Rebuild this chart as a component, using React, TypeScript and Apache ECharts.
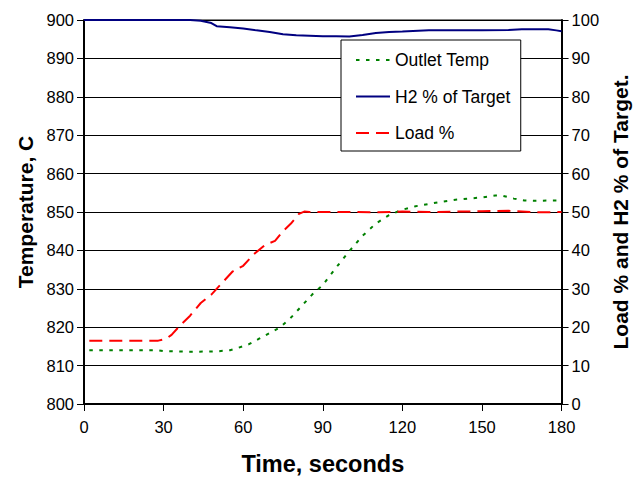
import React, { useEffect, useRef } from "react";
import * as echarts from "echarts";

const xTicks = [0, 30, 60, 90, 120, 150, 180];

const timeOutlet = [2, 10, 20, 28, 30, 40, 50, 55, 58, 62, 66, 70, 74, 78, 82, 86, 90, 95, 100, 105, 110, 115, 120, 125, 130, 135, 140, 145, 150, 155, 158, 162, 166, 170, 175, 180];
const outletTemp = [814, 814, 814, 814, 813.8, 813.6, 813.7, 814, 814.6, 815.5, 817, 818.5, 820, 822.5, 825.5, 828.5, 831, 835.5, 839.8, 843.8, 847, 849.2, 850.6, 851.5, 852.1, 852.7, 853.2, 853.5, 853.8, 854.3, 854.2, 853.5, 853, 852.9, 853, 853];

const timeH2 = [0, 20, 40, 44, 48, 50, 55, 60, 65, 70, 75, 80, 85, 90, 95, 100, 105, 110, 115, 120, 130, 140, 150, 160, 165, 170, 175, 178, 180];
const h2Pct = [100, 100, 100, 99.8, 99.2, 98.4, 98.1, 97.8, 97.3, 96.9, 96.3, 96.0, 95.9, 95.8, 95.8, 95.7, 96.1, 96.6, 96.9, 97, 97.3, 97.3, 97.3, 97.4, 97.6, 97.6, 97.6, 97.3, 97.1];

const timeLoad = [2, 10, 20, 28, 31, 33, 36, 40, 44, 48, 52, 56, 60, 64, 68, 72, 75, 78, 81, 83, 85, 90, 100, 110, 120, 130, 140, 150, 160, 170, 180];
const loadPct = [16.5, 16.5, 16.5, 16.5, 17, 18, 20.3, 23, 26.3, 28.5, 31.5, 34.5, 36, 39, 41.3, 42.5, 45, 47, 49.5, 50.1, 50, 50, 50, 49.9, 50.1, 50, 50.1, 50.2, 50.3, 49.9, 50];

const zip = (xs: number[], ys: number[]) => xs.map((x, i) => [x, ys[i]]);

const mainFont = "'Liberation Sans', Arial, sans-serif";

export default function App() {
  const ref = useRef<HTMLDivElement>(null);
  useEffect(() => {
    if (!ref.current) return;
    const chart = echarts.init(ref.current, null, { renderer: "svg" });
    const axisLabel = { color: "#000", fontFamily: mainFont, fontSize: 16.5 };
    chart.setOption({
      animation: false,
      backgroundColor: "#fff",
      grid: { left: 84, right: 72, top: 20, bottom: 72, show: true, borderColor: "#000", borderWidth: 1, backgroundColor: "transparent" },
      legend: {
        orient: "vertical",
        left: 341,
        top: 40,
        backgroundColor: "#fff",
        borderColor: "#000",
        borderWidth: 1,
        padding: [11, 10, 9, 14],
        itemWidth: 34,
        itemHeight: 18,
        itemGap: 18.5,
        itemStyle: { color: "transparent", borderWidth: 0, opacity: 0 },
        textStyle: { fontFamily: mainFont, fontSize: 17.5, color: "#000", lineHeight: 18 },
        data: ["Outlet Temp", "H2 % of Target", "Load %"],
      },
      xAxis: {
        type: "value",
        min: 0,
        max: 180,
        interval: 30,
        name: "Time, seconds",
        nameLocation: "middle",
        nameGap: 48,
        nameTextStyle: { fontFamily: mainFont, fontSize: 23.5, fontWeight: "bold", color: "#000" },
        axisLine: { lineStyle: { color: "#000", width: 2 } },
        axisTick: { length: 7, lineStyle: { color: "#000", width: 1 } },
        axisLabel: { ...axisLabel, margin: 14, formatter: (v: number) => (xTicks.includes(v) ? String(v) : "") },
        splitLine: { show: false },
      },
      yAxis: [
        {
          type: "value",
          min: 800,
          max: 900,
          interval: 10,
          name: "Temperature, C",
          nameLocation: "middle",
          nameGap: 48,
          nameTextStyle: { fontFamily: mainFont, fontSize: 21, fontWeight: "bold", color: "#000" },
          axisLine: { show: true, lineStyle: { color: "#000", width: 2 } },
          axisTick: { show: true, length: 7, lineStyle: { color: "#000", width: 1 } },
          axisLabel: { ...axisLabel, margin: 10 },
          splitLine: { show: true, lineStyle: { color: "#000", width: 1 } },
        },
        {
          type: "value",
          min: 0,
          max: 100,
          interval: 10,
          position: "right",
          name: "Load % and H2 % of Target.",
          nameLocation: "middle",
          nameGap: 45,
          nameTextStyle: { fontFamily: mainFont, fontSize: 21, fontWeight: "bold", color: "#000" },
          axisLine: { show: true, lineStyle: { color: "#000", width: 2 } },
          axisTick: { show: true, length: 7, lineStyle: { color: "#000", width: 1 } },
          axisLabel: { ...axisLabel, margin: 10 },
          splitLine: { show: false },
        },
      ],
      series: [
        {
          name: "Outlet Temp",
          type: "line",
          yAxisIndex: 0,
          symbol: "none",
          data: zip(timeOutlet, outletTemp),
          lineStyle: { color: "#008000", width: 2, type: [3.5, 6.5] },
          itemStyle: { color: "#008000" },
        },
        {
          name: "H2 % of Target",
          type: "line",
          yAxisIndex: 1,
          symbol: "none",
          data: zip(timeH2, h2Pct),
          lineStyle: { color: "#000080", width: 2 },
          itemStyle: { color: "#000080" },
        },
        {
          name: "Load %",
          type: "line",
          yAxisIndex: 1,
          symbol: "none",
          data: zip(timeLoad, loadPct),
          lineStyle: { color: "#ff0000", width: 2, type: [13, 7] },
          itemStyle: { color: "#ff0000" },
        },
      ],
    });
    return () => chart.dispose();
  }, []);
  return <div ref={ref} style={{ width: 639, height: 481, position: "absolute", left: 0, top: 0 }} />;
}
